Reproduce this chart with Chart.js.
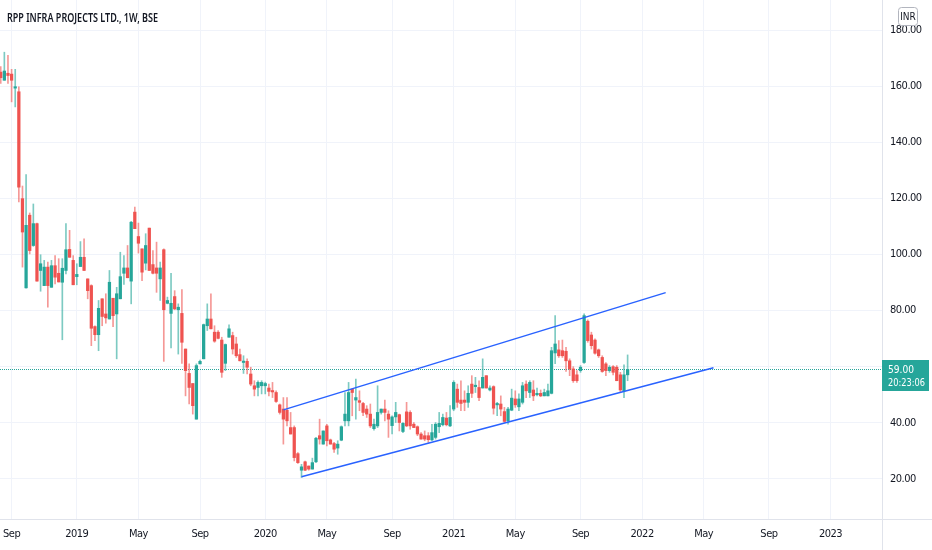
<!DOCTYPE html>
<html>
<head>
<meta charset="utf-8">
<script src="https://cdn.jsdelivr.net/npm/chart.js@4.4.1/dist/chart.umd.min.js"></script>
<style>
body { margin: 0; background: #fff; }
#wrap { width: 932px; height: 550px; }
</style>
</head>
<body>
<div id="wrap"><canvas id="mychart" width="932" height="550"></canvas></div>
<script>
// weekly candles, RPP INFRA PROJECTS (BSE), Aug 2018 .. Nov 2021
const openP = [
165, 162.1, 164.6, 164.3, 159.3, 158, 119.9, 88.1, 114, 103.2,
111, 94.3, 88.9, 95.5, 88.3, 96, 93.3, 90.1, 94.3, 101.8,
97.9, 92.1, 95.7, 99, 91.3, 88.9, 74.3, 71.4, 84.2, 78.8,
77, 84.4, 78.8, 84.2, 93.3, 95.2, 90.5, 115.1, 106.4, 102,
96.9, 109.4, 96.4, 95.2, 91.3, 101.7, 82.6, 79, 85, 80.3,
79, 66.3, 57.6, 54, 41.3, 61, 62.8, 74.6, 77, 72.3,
72.3, 69.5, 61.2, 70.5, 71.1, 68.1, 64.3, 61.5, 61.9, 57.4,
53.2, 52.6, 53.2, 53.2, 52.4, 51.5, 50.8, 46.4, 44.9, 44.5,
38.3, 38.3, 29, 23.1, 26.1, 24.6, 23.5, 26.1, 35.4, 32.4,
38.9, 33.9, 32.6, 31, 33.8, 40.7, 40.7, 52, 48.1, 47.9,
46.9, 44.9, 43.1, 37.9, 38.9, 43.7, 44.9, 43.1, 39, 42.1,
42.9, 36.9, 43.9, 43.7, 39.5, 38.6, 36, 35.4, 35.4, 33.9,
34.8, 38.6, 39.3, 41.7, 38.9, 44.9, 52, 48.1, 48.1, 47.3,
53.8, 52.9, 52.6, 52.4, 56.8, 51.7, 52.9, 46.4, 46.7, 44,
40.7, 44.5, 48.5, 45.7, 47.3, 53.8, 50.8, 51.7, 50, 50.5,
49.6, 49.6, 50.5, 64.9, 66, 65.7, 65.5, 62.1, 59.2, 57.1,
58.6, 61.5, 76.2, 71.3, 69.5, 66, 63.3, 61, 58.6, 60,
59.8, 57.1, 51.4, 57.1
];
const highP = [
167, 172.1, 171, 166, 166, 159.8, 124.4, 128.5, 114.8, 118,
111.2, 99.9, 97.9, 97.3, 97.9, 99.6, 98.5, 98.5, 111, 108.6,
99.6, 96.7, 104.6, 105.6, 91.3, 89.2, 74.6, 83.6, 84.2, 86,
94.3, 84.4, 88.3, 100.8, 99.6, 103.2, 111.8, 116.9, 111.2, 102,
107.4, 109.4, 101.4, 104.4, 97.3, 102, 84.8, 93.3, 87.1, 82.4,
87.5, 66.3, 61, 54, 61, 62.4, 75.2, 82.4, 86, 74.6,
72.9, 70.5, 68.1, 74.9, 72.3, 70.5, 66.3, 63.9, 62.8, 59.8,
55, 55, 55, 54.5, 53.8, 54.4, 51.4, 46.7, 49, 49,
43.7, 38.9, 29.4, 25.2, 26.4, 24.6, 27.4, 34.8, 41.3, 37.1,
39.5, 34.2, 33, 33.6, 38.9, 50.8, 54.4, 52, 55.6, 51.4,
47.3, 46.1, 46.7, 41.3, 53.2, 44.9, 48.1, 44.3, 42.5, 47.3,
43.1, 40.1, 47.3, 44.3, 40.1, 38.9, 36.5, 37.1, 36.5, 39.5,
40.1, 43.7, 43.1, 43.7, 46.1, 55, 53.8, 55, 51.4, 53.2,
56.8, 56.2, 55, 62.8, 56.8, 53.2, 53.2, 47.3, 49.6, 45.5,
45.5, 52, 51.4, 50.3, 54.4, 55, 55, 55, 52.4, 51.7,
52, 53.8, 66.9, 78.2, 69.3, 69.5, 66.9, 62.8, 60, 58.6,
60.4, 78.8, 76.7, 72.3, 69.9, 66.3, 63.9, 61.5, 60.4, 60.4,
60.4, 58, 60.7, 64.2
];
const lowP = [
161, 162.1, 161, 154.4, 152.6, 118.7, 95.5, 88, 100.2, 102.9,
90.5, 86.9, 88.9, 81.2, 88.3, 89.5, 90.2, 69.6, 93.1, 99,
89.2, 89.2, 95.7, 94.3, 84.2, 67.5, 69.3, 65.7, 74.6, 75.5,
77, 74.3, 62.8, 84.2, 89.3, 91.7, 82.4, 109.2, 100.5, 90.7,
94.5, 94.3, 93.1, 86.5, 83.6, 61.9, 82.4, 66.7, 80.3, 64.5,
61.2, 49.6, 46.7, 43.1, 41.3, 61, 62.8, 72.9, 73.5, 68.7,
69.9, 56.2, 58.6, 70.5, 64.5, 63.3, 62.1, 57.6, 57.4, 53.2,
49.6, 49.6, 50.3, 50.3, 49.6, 49, 47.3, 43.1, 32.4, 38.9,
36, 26.4, 25.5, 20.5, 22.9, 23.1, 23.5, 25.8, 32.4, 32.4,
31.8, 32.4, 29.4, 28.8, 33.6, 38.9, 38.9, 42.5, 41.3, 44.3,
42.5, 41.9, 38.3, 37.4, 38.3, 43.1, 40.7, 34.8, 36, 40.1,
37.1, 36.5, 38.6, 37.7, 38.3, 35.4, 34.2, 33.6, 33, 33.6,
34.2, 36.5, 38.9, 38.9, 38.6, 44.3, 45.5, 44.3, 44.3, 45.5,
49, 50.8, 47.9, 52.4, 52.4, 51.4, 43.1, 42.5, 42.5, 40.1,
39.5, 44.3, 45.5, 44.3, 46.7, 49, 49, 47.9, 49.6, 49.3,
49.6, 49.6, 50.3, 61.1, 63.3, 63.3, 58.3, 56.8, 54.4, 54.4,
58, 61.2, 68.7, 66.3, 64.5, 63.3, 58, 56.8, 58, 57.1,
55, 50.8, 49, 55
];
const closeP = [
163, 165.4, 163.8, 162.1, 159.8, 124, 108, 110.4, 101.4, 111,
90.5, 96.7, 95.5, 88.9, 96, 91.9, 90.2, 95.1, 101.7, 99,
89.2, 92.9, 99, 94.3, 87.1, 73.7, 71.4, 80.8, 77.9, 77.4,
90.1, 78.2, 86, 92.1, 95.2, 91.7, 111.5, 109.2, 104, 93.7,
103.2, 94.3, 93.3, 93.3, 95.2, 80.3, 83.6, 82.6, 80.6, 81.2,
68.7, 58.6, 52.6, 46.1, 60.4, 61.9, 75, 77, 73.5, 69.1,
70.1, 58, 67.9, 73.5, 66.3, 63.9, 62.1, 62, 59.8, 53.8,
52, 54.4, 54.4, 54, 51.2, 51, 47.6, 43.7, 41.3, 40.7,
36, 27.6, 25.8, 24.3, 23.1, 23.5, 25.8, 34.5, 34.2, 37.1,
33.6, 32.4, 30.6, 32.4, 38.6, 43.1, 50.8, 50.8, 49, 47.3,
43.7, 43.1, 38.9, 39.5, 43.7, 44.9, 43.7, 41.3, 42.1, 43.7,
40.1, 39.8, 38.9, 38.9, 38.3, 36, 34.2, 34.2, 34, 36.5,
39.5, 39.8, 41.9, 39.3, 41.9, 54.4, 47.3, 46.9, 47.3, 50.5,
50.5, 53.4, 49, 56.2, 52.4, 52.4, 45.2, 46.9, 44.9, 40.5,
44.9, 48.8, 46.4, 48.5, 53.2, 51.4, 54.4, 49.6, 50.5, 49.6,
50.8, 51.4, 65.7, 68.1, 63.9, 63.9, 62.1, 59.2, 55, 55,
59.8, 78.2, 69.3, 67.5, 64.8, 63.9, 58.3, 58.6, 59.8, 58,
55, 51.7, 57.1, 59
];

// x axis: week index (0 = week of 6 Aug 2018), ticks at the weekly bar holding the 1st of the month
const xTickIdx = [3, 21, 38, 55, 73, 90, 108, 125, 142, 160, 177, 194, 212, 229];
const xTickLabels = ['Sep', '2019', 'May', 'Sep', '2020', 'May', 'Sep', '2021', 'May', 'Sep', '2022', 'May', 'Sep', '2023'];
const yTicks = [20, 40, 60, 80, 100, 120, 140, 160, 180];

// drawn channel
const upperLine = [{x: 78, y: 44.6}, {x: 183.5, y: 86.4}];
const lowerLine = [{x: 83, y: 20.8}, {x: 196.7, y: 59.6}];

const lastPrice = closeP[closeP.length - 1];
const countdown = '20:23:06';
const title = 'RPP INFRA PROJECTS LTD., 1W, BSE';

const UP = '#26a69a', DOWN = '#ef5350';
const UP_W = 'rgba(38,166,154,0.6)', DOWN_W = 'rgba(239,83,80,0.6)';
const axisFont = "'Liberation Sans Narrow', 'DejaVu Sans Condensed', 'Liberation Sans', sans-serif";

const idx = closeP.map((c, i) => i);
const isUp = i => closeP[i] >= openP[i];

const bodies = idx.map(i => ({x: i, y: [openP[i], closeP[i]]}));
const wicks = idx.map(i => ({x: i, y: [Math.min(lowP[i], openP[i], closeP[i]), Math.max(highP[i], openP[i], closeP[i])]}));

// draw text squeezed to a given width
function squeeze(ctx, text, x, y, width) {
    const w = ctx.measureText(text).width;
    ctx.save();
    ctx.translate(x, y);
    ctx.scale(Math.min(1, width / w), 1);
    ctx.fillText(text, 0, 0);
    ctx.restore();
}

// title, price label, borders
const overlay = {
    id: 'overlay',
    beforeDraw(chart) {
        chart.ctx.letterSpacing = '-0.5px';
    },
    beforeDatasetsDraw(chart) {
        const {ctx, chartArea, scales} = chart;
        const y = Math.round(scales.y.getPixelForValue(lastPrice)) + 0.5;
        ctx.save();
        ctx.strokeStyle = UP;
        ctx.lineWidth = 1;
        ctx.setLineDash([1, 1]);
        ctx.beginPath();
        ctx.moveTo(chartArea.left, y);
        ctx.lineTo(chartArea.right, y);
        ctx.stroke();
        ctx.restore();
    },
    afterDraw(chart) {
        const {ctx, chartArea, scales} = chart;
        ctx.save();
        ctx.letterSpacing = '0px';
        // axis separators
        ctx.strokeStyle = '#e0e3eb';
        ctx.lineWidth = 1;
        ctx.beginPath();
        ctx.moveTo(chartArea.right + 0.5, 0);
        ctx.lineTo(chartArea.right + 0.5, 550);
        ctx.moveTo(0, chartArea.bottom + 0.5);
        ctx.lineTo(932, chartArea.bottom + 0.5);
        ctx.stroke();

        // title
        ctx.fillStyle = '#131722';
        ctx.font = "600 13px 'Noto Sans', sans-serif";
        ctx.textBaseline = 'middle';
        ctx.textAlign = 'left';
        squeeze(ctx, title, 7, 18, 151);

        // last price label
        const py = Math.round(scales.y.getPixelForValue(lastPrice));
        const bx = chartArea.right;
        ctx.fillStyle = UP;
        ctx.fillRect(bx, py - 9, 47, 31);
        ctx.fillStyle = '#fff';
        ctx.font = '11px ' + axisFont;
        squeeze(ctx, lastPrice.toFixed(2), bx + 6, py + 1, 26);
        squeeze(ctx, countdown, bx + 6, py + 14, 37);

        // currency badge
        ctx.fillStyle = '#fff';
        ctx.strokeStyle = '#b2b5be';
        ctx.beginPath();
        ctx.roundRect(898.5, 7.5, 19, 18, 3);
        ctx.fill();
        ctx.stroke();
        ctx.fillStyle = '#131722';
        ctx.font = '10px ' + axisFont;
        ctx.textAlign = 'center';
        ctx.fillText('INR', 908, 17);
        ctx.restore();
    }
};

const ctx = document.getElementById('mychart');

new Chart(ctx, {
    type: 'bar',
    data: {
        datasets: [
            {
                type: 'line',
                data: upperLine,
                borderColor: '#2962ff',
                borderWidth: 1.5,
                pointRadius: 0,
                fill: false
            },
            {
                type: 'line',
                data: lowerLine,
                borderColor: '#2962ff',
                borderWidth: 1.5,
                pointRadius: 0,
                fill: false
            },
            {
                data: bodies,
                grouped: false,
                barThickness: 2.6,
                minBarLength: 1,
                backgroundColor: idx.map(i => isUp(i) ? UP : DOWN),
                borderWidth: 0
            },
            {
                data: wicks,
                grouped: false,
                barThickness: 1,
                backgroundColor: idx.map(i => isUp(i) ? UP_W : DOWN_W),
                borderWidth: 0
            }
        ]
    },
    options: {
        responsive: false,
        animation: false,
        layout: { padding: 0 },
        plugins: {
            legend: { display: false },
            tooltip: { enabled: false }
        },
        scales: {
            x: {
                type: 'linear',
                min: -0.2,
                max: 243.2,
                offset: false,
                grid: { offset: false, color: '#f0f3fa', drawTicks: false },
                border: { display: false },
                afterBuildTicks: axis => { axis.ticks = xTickIdx.map(v => ({value: v})); },
                afterFit: axis => { axis.height = 31; axis.paddingLeft = 0; axis.paddingRight = 0; },
                ticks: {
                    autoSkip: false,
                    maxRotation: 0,
                    padding: 9,
                    color: '#131722',
                    font: { family: axisFont, size: 11 },
                    callback: v => xTickLabels[xTickIdx.indexOf(v)]
                }
            },
            y: {
                position: 'right',
                min: 5.71,
                max: 190.71,
                beginAtZero: false,
                grid: { color: '#f0f3fa', drawTicks: false },
                border: { display: false },
                afterBuildTicks: axis => { axis.ticks = yTicks.map(v => ({value: v})); },
                afterFit: axis => { axis.width = 50; axis.paddingTop = 0; axis.paddingBottom = 0; },
                ticks: {
                    padding: 8,
                    color: '#131722',
                    font: { family: axisFont, size: 11 },
                    callback: v => v.toFixed(2)
                }
            }
        }
    },
    plugins: [overlay]
});
</script>
</body>
</html>
